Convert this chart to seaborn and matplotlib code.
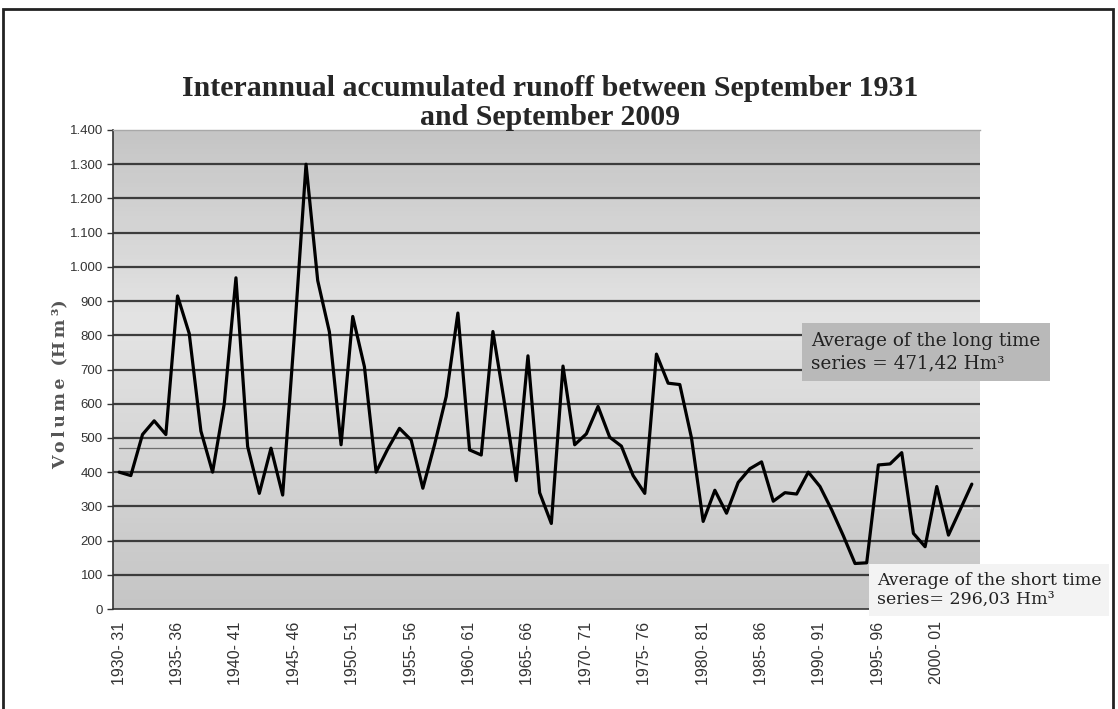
import numpy as np
import pandas as pd
import matplotlib
matplotlib.use("Agg")
import matplotlib.pyplot as plt
import seaborn as sns
from matplotlib.patches import Rectangle

# hydrological years, 1930-31 .. 2003-04
start_years = list(range(1930, 2004))
year_labels = [f"{y}- {str(y + 1)[-2:]}" for y in start_years]

# accumulated runoff per year (Hm3)
runoff = [400, 390, 510, 550, 510, 915, 805, 520, 400, 600,
          968, 475, 338, 470, 333, 800, 1300, 960, 810, 480,
          855, 708, 400, 468, 528, 494, 353, 480, 621, 865,
          465, 450, 811, 600, 375, 740, 340, 250, 710, 480,
          512, 592, 502, 476, 390, 338, 745, 660, 656, 500,
          256, 347, 280, 370, 410, 430, 315, 340, 336, 400,
          358, 290, 214, 133, 135, 421, 424, 457, 221, 182,
          358, 216, 290, 365]

long_avg = 471.42
short_avg = 296.03
short_start = 1980

df = pd.DataFrame({"idx": range(len(start_years)), "year": start_years,
                   "label": year_labels, "runoff": runoff})

sns.set_style("white")
plt.rcParams["font.family"] = ["Liberation Sans", "DejaVu Sans"]

fig = plt.figure(figsize=(11.18, 7.09), dpi=100)
ax = fig.add_axes([113.3 / 1118, 100 / 709, 866.7 / 1118, 479 / 709])

# gray gradient plot area (dark top/bottom, light middle)
grad = np.concatenate([np.linspace(0.77, 0.89, 60), np.linspace(0.89, 0.77, 40)])
ax.imshow(grad[::-1].reshape(-1, 1), cmap="gray", vmin=0, vmax=1, aspect="auto",
          extent=(0, 1, 0, 1), transform=ax.transAxes, zorder=0)

for v in range(100, 1400, 100):
    ax.axhline(v, color="#3c3c3c", lw=1.6, zorder=1)

# averages
ax.plot([0, len(df) - 1], [long_avg, long_avg], color="#6e6e6e", lw=0.9, zorder=2)
short = df[df["year"] >= short_start]
ax.plot([short["idx"].iloc[0], short["idx"].iloc[-1]], [short_avg, short_avg],
        color="#e4e4e4", lw=0.9, zorder=2)

sns.lineplot(data=df, x="idx", y="runoff", ax=ax, color="black", lw=2.3, zorder=3)

ax.set_xlim(-0.5, 73.7)
ax.set_ylim(0, 1400)

ax.set_yticks(range(0, 1401, 100))
ax.set_yticklabels([f"{v:,}".replace(",", ".") for v in range(0, 1401, 100)],
                   fontsize=9.5, color="#333333")
major = df["idx"][::5]
ax.set_xticks(major)
ax.set_xticklabels(df["label"][::5], rotation=90, fontsize=11.5, color="#333333")
ax.set_xticks(np.arange(-0.5, len(df), 1), minor=True)
ax.tick_params(axis="x", which="major", length=0, pad=9)
ax.tick_params(axis="x", which="minor", length=4, width=1, color="#333333", direction="out")
ax.tick_params(axis="y", length=4, width=1, color="#333333", direction="out", left=True)
ax.set_xlabel("")
thin = "\u2009"
ax.set_ylabel(thin.join("Volume") + "  (" + thin.join("Hm³") + ")", fontsize=12.5,
              fontweight="bold", color="#555555", family=["DejaVu Serif"])
ax.yaxis.set_label_coords(-0.052, 0.47)

for s in ["left", "bottom"]:
    ax.spines[s].set_color("#333333")
    ax.spines[s].set_linewidth(1.2)
ax.spines["right"].set_visible(False)
ax.spines["top"].set_color("#a8a8a8")
ax.spines["top"].set_linewidth(1.0)

fig.suptitle("Interannual accumulated runoff between September 1931\nand September 2009",
             x=550 / 1118, y=1 - 75 / 709, fontsize=21.5, fontweight="bold",
             family="Liberation Serif", linespacing=1.1, va="top")

# annotation boxes
fig.text(811 / 1118, 1 - 352 / 709,
         "Average of the long time\nseries = 471,42 Hm³", fontsize=13.2,
         family="DejaVu Serif", color="#222222", va="center", ha="left",
         linespacing=1.3,
         bbox=dict(boxstyle="square,pad=0.5", fc="#b9b9b9", ec="none"))
fig.text(877 / 1118, 1 - 590 / 709,
         "Average of the short time\nseries= 296,03 Hm³", fontsize=12.5,
         family="DejaVu Serif", color="#222222", va="center", ha="left",
         linespacing=1.2,
         bbox=dict(boxstyle="square,pad=0.45", fc="#f3f3f3", ec="none"))

# outer frame
fig.patches.append(Rectangle((3 / 1118, -0.05), 1110 / 1118, 1.05 - 9 / 709,
                             transform=fig.transFigure, fill=False,
                             ec="#222222", lw=2))

fig.savefig("out.png", dpi=100)
